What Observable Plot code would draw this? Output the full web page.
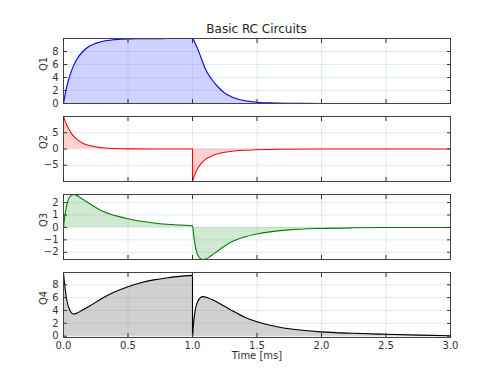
<!DOCTYPE html>
<html><head><meta charset="utf-8">
<script src="https://cdn.jsdelivr.net/npm/d3@7"></script>
<script src="https://cdn.jsdelivr.net/npm/@observablehq/plot@0.6"></script>
<style>
body{margin:0;background:#fff;font-family:"DejaVu Sans",sans-serif;}
#root{position:relative;width:500px;height:375px;overflow:hidden;background:#fff;}
#root svg{position:absolute;left:0;overflow:visible;}
#title{position:absolute;left:63px;width:387px;text-align:center;font-size:12px;line-height:14px;color:#262626;top:22px;}
</style></head><body><div id="root"><div id="title"></div></div>
<script>
const title = "Basic RC Circuits";
const xLabel = "Time [ms]";
const xTicks = [0, 0.5, 1, 1.5, 2, 2.5, 3];
const panelLabels = ["Q1", "Q2", "Q3", "Q4"];
const panelColors = ["#0000ff", "#ff0000", "#008000", "#000000"];
const yTicks = [[0, 2, 4, 6, 8], [-5, 0, 5], [-2, -1, 0, 1, 2], [0, 2, 4, 6, 8]];

// Q1: charging (0..1 ms) and discharging (1..3 ms)
const q1OnT  = [0, 0.01, 0.02, 0.04, 0.06, 0.08, 0.1, 0.15, 0.2, 0.25, 0.3, 0.4, 0.5, 0.6, 0.8, 1.0];
const q1OnV  = [0, 1.1, 2.1, 3.7, 4.9, 5.9, 6.7, 8.0, 8.8, 9.25, 9.55, 9.83, 9.94, 9.97, 9.99, 10];
const q1OffT = [1.0, 1.02, 1.05, 1.08, 1.1, 1.15, 1.2, 1.25, 1.3, 1.4, 1.5, 1.6, 1.8, 2.0, 2.5, 3.0];
const q1OffV = [10, 9.3, 7.9, 6.3, 5.3, 3.7, 2.5, 1.6, 1.05, 0.45, 0.2, 0.09, 0.02, 0.005, 0, 0];

// Q2
const q2OnT  = [0, 0.01, 0.02, 0.04, 0.06, 0.08, 0.1, 0.15, 0.2, 0.3, 0.4, 0.5, 0.7, 1.0];
const q2OnV  = [10, 8.8, 7.8, 6.2, 4.9, 3.9, 3.1, 1.8, 1.05, 0.38, 0.14, 0.05, 0.01, 0];
const q2OffT = [1.0, 1.01, 1.02, 1.04, 1.06, 1.08, 1.1, 1.15, 1.2, 1.3, 1.4, 1.5, 1.7, 2.0, 2.5, 3.0];
const q2OffV = [-10, -8.7, -7.6, -6.0, -4.8, -3.9, -3.2, -2.1, -1.45, -0.75, -0.4, -0.22, -0.06, -0.01, 0, 0];

// Q3
const q3OnT  = [0, 0.01, 0.02, 0.03, 0.04, 0.06, 0.08, 0.1, 0.13, 0.16, 0.2, 0.25, 0.3, 0.4, 0.5, 0.6, 0.7, 0.8, 0.9, 1.0];
const q3OnV  = [0, 0.9, 1.55, 2.0, 2.3, 2.58, 2.65, 2.6, 2.4, 2.2, 1.92, 1.6, 1.32, 0.95, 0.7, 0.5, 0.36, 0.26, 0.19, 0.13];
const q3OffT = [1.0, 1.01, 1.02, 1.03, 1.04, 1.06, 1.08, 1.1, 1.13, 1.16, 1.2, 1.25, 1.3, 1.4, 1.5, 1.6, 1.75, 2.0, 2.25, 2.5, 3.0];
const q3OffV = [0.13, -0.7, -1.4, -1.9, -2.2, -2.5, -2.58, -2.55, -2.38, -2.15, -1.85, -1.5, -1.18, -0.78, -0.53, -0.36, -0.2, -0.08, -0.03, -0.01, 0];

// Q4
const q4OnT  = [0, 0.005, 0.01, 0.02, 0.03, 0.04, 0.055, 0.07, 0.08, 0.1, 0.15, 0.2, 0.3, 0.4, 0.5, 0.6, 0.7, 0.8, 0.9, 1.0];
const q4OnV  = [9.9, 8.8, 7.9, 6.3, 5.2, 4.5, 3.8, 3.5, 3.45, 3.55, 4.1, 4.65, 5.9, 6.9, 7.7, 8.3, 8.75, 9.05, 9.3, 9.45];
const q4OffT = [1.0, 1.005, 1.01, 1.02, 1.03, 1.04, 1.06, 1.08, 1.1, 1.15, 1.2, 1.3, 1.4, 1.5, 1.6, 1.75, 2.0, 2.25, 2.5, 2.75, 3.0];
const q4OffV = [-0.2, 1.2, 2.3, 3.9, 4.8, 5.4, 5.95, 6.15, 6.1, 5.7, 5.2, 4.05, 3.0, 2.25, 1.7, 1.15, 0.67, 0.45, 0.3, 0.17, 0.08];

const series = [
  [q1OnT, q1OnV, q1OffT, q1OffV],
  [q2OnT, q2OnV, q2OffT, q2OffV],
  [q3OnT, q3OnV, q3OffT, q3OffV],
  [q4OnT, q4OnV, q4OffT, q4OffV]
];

const root = document.getElementById("root");
document.getElementById("title").textContent = title;
const blank = () => "";

series.forEach(([aT, aV, bT, bV], i) => {
  const last = i === series.length - 1;
  const mt = 5, mb = last ? 40 : 5, h = 65;
  const data = [
    ...aT.map((t, j) => ({t, v: aV[j]})),
    ...bT.map((t, j) => ({t, v: bV[j]}))
  ];
  const yDom = d3.extent(data, d => d.v);
  const color = panelColors[i];
  const svg = Plot.plot({
    width: 500, height: h + mt + mb,
    marginLeft: 63, marginRight: 50, marginTop: mt, marginBottom: mb,
    style: {fontFamily: "DejaVu Sans, sans-serif", fontSize: "10px", color: "#333", background: "transparent", overflow: "visible"},
    x: {domain: [0, 3]},
    y: {domain: yDom},
    marks: [
      Plot.areaY(data, {x: "t", y1: 0, y2: "v", fill: color, fillOpacity: 0.18, curve: "monotone-x"}),
      Plot.gridX(xTicks, {stroke: "#6fa8c8", strokeOpacity: 0.22}),
      Plot.gridY(yTicks[i], {stroke: "#6fa8c8", strokeOpacity: 0.22}),
      Plot.line(data, {x: "t", y: "v", stroke: color, strokeWidth: 1.1, curve: "monotone-x"}),
      Plot.frame({stroke: "#444"}),
      Plot.axisY(yTicks[i], {anchor: "left", tickSize: -4, tickPadding: 9, tickFormat: d3.format("d"), label: null}),
      Plot.axisY(yTicks[i], {anchor: "right", tickSize: -4, tickFormat: blank, label: null}),
      Plot.axisX(xTicks, {anchor: "top", tickSize: -4, tickFormat: blank, label: null}),
      Plot.axisX(xTicks, {anchor: "bottom", tickSize: -4, tickPadding: 8, tickFormat: last ? d3.format(".1f") : blank, label: null}),
      Plot.text([panelLabels[i]], {frameAnchor: "left", rotate: -90, dx: -20, text: d => d, fontSize: 10, fill: "#333"}),
      last ? Plot.text([xLabel], {frameAnchor: "bottom", dy: 21, text: d => d, fontSize: 10, fill: "#333"}) : null
    ]
  });
  svg.style.top = (38 + 78 * i - mt) + "px";
  root.append(svg);
});
</script>
</body></html>
